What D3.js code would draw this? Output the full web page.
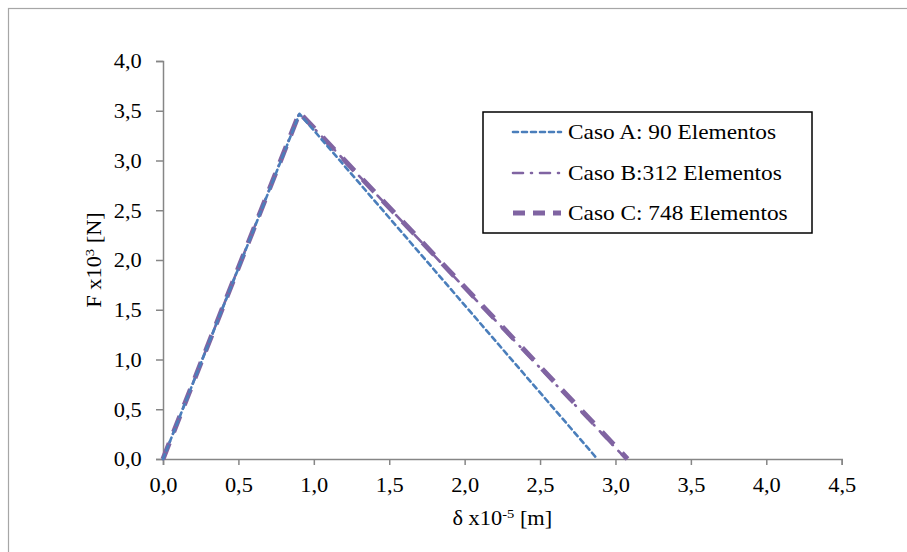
<!DOCTYPE html>
<html><head><meta charset="utf-8">
<script src="https://cdn.jsdelivr.net/npm/d3@7"></script>
<style>body{margin:0;background:#fff}svg{display:block}</style>
</head><body>
<script>
// Data
const seriesNames = ["Caso A: 90 Elementos", "Caso B:312 Elementos", "Caso C: 748 Elementos"];
const casoA = [[0, 0], [0.905, 3.47], [2.88, 0]];
const casoB = [[0, 0], [0.905, 3.48], [3.07, 0]];
const casoC = [[0, 0], [0.905, 3.48], [3.08, 0]];
const xTicks = [0, 0.5, 1.0, 1.5, 2.0, 2.5, 3.0, 3.5, 4.0, 4.5];
const yTicks = [0, 0.5, 1.0, 1.5, 2.0, 2.5, 3.0, 3.5, 4.0];

const W = 907, H = 552;
const svg = d3.select("body").append("svg").attr("width", W).attr("height", H);
const font = "'Liberation Serif', 'Times New Roman', serif";
const fs = 20, sx = 1.12;

// outer frame
svg.append("rect").attr("x", 8.5).attr("y", 8.5).attr("width", 920).attr("height", 580)
  .attr("fill", "none").attr("stroke", "#a6a6a6").attr("stroke-width", 1.2);

const x = d3.scaleLinear().domain([0, 4.5]).range([163, 841.7]);
const y = d3.scaleLinear().domain([0, 4.0]).range([459, 61]);
const fmt = d => d.toFixed(1).replace(".", ",");

const axisColor = "#868686";
const gx = svg.append("g").attr("transform", `translate(0,${y(0)})`)
  .call(d3.axisBottom(x).tickValues(xTicks).tickFormat(fmt).tickSize(6).tickSizeOuter(6).tickPadding(8));
const gy = svg.append("g").attr("transform", `translate(${x(0)},0)`)
  .call(d3.axisLeft(y).tickValues(yTicks).tickFormat(fmt).tickSize(7).tickSizeOuter(7).tickPadding(12));
[gx, gy].forEach(g => {
  g.select(".domain").attr("stroke", axisColor).attr("stroke-width", 1.5);
  g.selectAll(".tick line").attr("stroke", axisColor).attr("stroke-width", 1.5);
  g.selectAll("text").attr("fill", "#000").style("font-family", font).style("font-size", fs + "px");
});
gx.selectAll("text").attr("dy", "0.95em").attr("transform", `scale(${sx},1)`);
gy.selectAll("text").attr("dy", "0.34em").attr("transform", `scale(${sx},1)`);

// axis titles
const xt = svg.append("text").attr("transform", `translate(${(x(0) + x(4.5)) / 2},525) scale(${sx},1)`)
  .attr("text-anchor", "middle").style("font-family", font).style("font-size", fs + "px");
xt.append("tspan").text("δ x10");
xt.append("tspan").text("-5").attr("dy", -7).style("font-size", "13px");
xt.append("tspan").text(" [m]").attr("dy", 7);

const yt = svg.append("text").attr("transform", `translate(101,${(y(0) + y(4)) / 2}) rotate(-90) scale(${sx},1)`)
  .attr("text-anchor", "middle").style("font-family", font).style("font-size", fs + "px");
yt.append("tspan").text("F x10");
yt.append("tspan").text("3").attr("dy", -7).style("font-size", "13px");
yt.append("tspan").text(" [N]").attr("dy", 7);

// series styles
const styles = [
  { data: casoA, color: "#4a7ebb", w: 2.6, dash: "5,4", cap: "round" },
  { data: casoB, color: "#8064a2", w: 2.6, dash: "10,8,1,8", cap: "round" },
  { data: casoC, color: "#8064a2", w: 5, dash: "17,12", cap: "butt" }
];
const line = d3.line().x(d => x(d[0])).y(d => y(d[1]));
[2, 1, 0].forEach(i => {
  const s = styles[i];
  svg.append("path").datum(s.data).attr("d", line).attr("fill", "none")
    .attr("stroke", s.color).attr("stroke-width", s.w).attr("stroke-dasharray", s.dash)
    .attr("stroke-linecap", s.cap).attr("stroke-linejoin", "round");
});

// legend
const lg = svg.append("g");
lg.append("rect").attr("x", 483).attr("y", 112).attr("width", 329).attr("height", 121)
  .attr("fill", "#fff").attr("stroke", "#000").attr("stroke-width", 1.5);
const rowsY = [132, 173, 213];
const legDash = ["5,4", "10,8,1,8", "12,8"];
seriesNames.forEach((n, i) => {
  const s = styles[i];
  lg.append("line").attr("x1", 513).attr("x2", 561).attr("y1", rowsY[i]).attr("y2", rowsY[i])
    .attr("stroke", s.color).attr("stroke-width", s.w).attr("stroke-dasharray", legDash[i])
    .attr("stroke-linecap", s.cap);
  lg.append("text").attr("transform", `translate(568,${rowsY[i]}) scale(1.15,1)`).attr("dy", "0.34em")
    .style("font-family", font).style("font-size", "20.3px").text(n);
});
</script>
</body></html>
